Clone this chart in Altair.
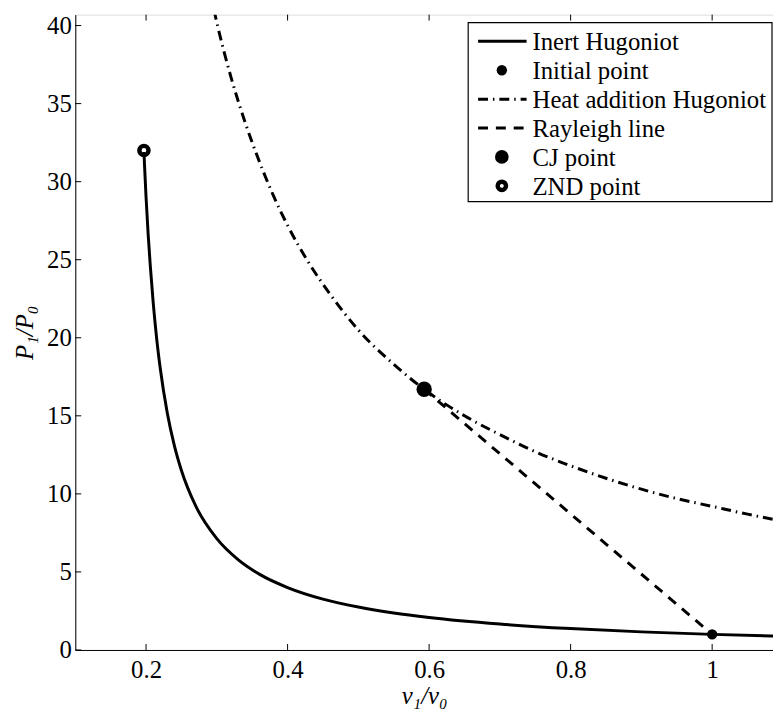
import altair as alt
import pandas as pd

# ---- data ----
inert_v = [0.197, 0.198, 0.200, 0.203, 0.206, 0.210, 0.215, 0.220, 0.230, 0.240, 0.250,
           0.270, 0.300, 0.330, 0.360, 0.400, 0.450, 0.500, 0.550, 0.600, 0.700, 0.800,
           0.900, 1.000, 1.100]
inert_P = [31.9, 30.9, 29.0, 26.6, 24.6, 22.3, 19.95, 18.06, 15.18, 13.09, 11.5,
           9.24, 7.13, 5.79, 4.86, 4.0, 3.26, 2.75, 2.37, 2.08, 1.66, 1.37,
           1.16, 1.0, 0.88]

heat_v = [0.296, 0.300, 0.320, 0.340, 0.360, 0.380, 0.400, 0.430, 0.460, 0.500, 0.550,
          0.593, 0.650, 0.700, 0.750, 0.800, 0.850, 0.900, 0.950, 1.000, 1.050, 1.100]
heat_P = [41.0, 40.2, 36.7, 33.8, 31.3, 29.1, 27.2, 24.8, 22.8, 20.5, 18.3,
          16.7, 15.0, 13.8, 12.7, 11.8, 11.0, 10.3, 9.7, 9.2, 8.7, 8.25]

rayleigh_v = [0.593, 1.0]
rayleigh_P = [16.7, 1.0]

initial_v, initial_P = [1.0], [1.0]
cj_v, cj_P = [0.593], [16.7]
znd_v, znd_P = [0.197], [32.0]

x_ticks = [0.2, 0.4, 0.6, 0.8, 1.0]
y_ticks = [0, 5, 10, 15, 20, 25, 30, 35, 40]

legend_labels = ["Inert Hugoniot", "Initial point", "Heat addition Hugoniot",
                 "Rayleigh line", "CJ point", "ZND point"]

# ---- layout / style ----
W, H = 705, 642
FONT = "Liberation Serif"
FS = 25
xs = alt.Scale(domain=[0.1, 1.086], nice=False, zero=False)
ys = alt.Scale(domain=[0, 40.7], nice=False, zero=False)

xaxis = alt.Axis(values=x_ticks, format="~g", ticks=False, grid=False,
                 title="v₁/v₀", titleFontStyle="italic", titleFont=FONT,
                 titleFontSize=FS, titleFontWeight="normal", titleColor="black",
                 titlePadding=1, labelFont=FONT, labelFontSize=FS, labelColor="black",
                 labelPadding=8, domainColor="black", labelFlush=False)
yaxis = alt.Axis(values=y_ticks, ticks=False, grid=False,
                 title="P₁/P₀", titleFontStyle="italic", titleFont=FONT,
                 titleFontSize=FS, titleFontWeight="normal", titleColor="black",
                 titlePadding=9, labelFont=FONT, labelFontSize=FS, labelColor="black",
                 labelPadding=4, domainColor="black", labelFlush=False)

X = alt.X("v:Q", scale=xs, axis=xaxis)
Y = alt.Y("P:Q", scale=ys, axis=yaxis)

df_inert = pd.DataFrame({"v": inert_v, "P": inert_P})
df_heat = pd.DataFrame({"v": heat_v, "P": heat_P})
df_ray = pd.DataFrame({"v": rayleigh_v, "P": rayleigh_P})
df_init = pd.DataFrame({"v": initial_v, "P": initial_P})
df_cj = pd.DataFrame({"v": cj_v, "P": cj_P})
df_znd = pd.DataFrame({"v": znd_v, "P": znd_P})

HEAT_DASH = [10, 5, 1.5, 5]
RAY_DASH = [10, 8]

layers = []
layers.append(alt.Chart(df_inert).mark_line(color="black", strokeWidth=3, clip=True,
                                             interpolate="monotone").encode(x=X, y=Y))
layers.append(alt.Chart(df_heat).mark_line(color="black", strokeWidth=3, clip=True,
                                            interpolate="monotone",
                                            strokeDash=HEAT_DASH).encode(x=X, y=Y))
layers.append(alt.Chart(df_ray).mark_line(color="black", strokeWidth=3, clip=True,
                                           strokeDash=RAY_DASH).encode(x=X, y=Y))
layers.append(alt.Chart(df_init).mark_point(shape="circle", filled=True, color="black",
                                             size=110, opacity=1).encode(x=X, y=Y))
layers.append(alt.Chart(df_cj).mark_point(shape="circle", filled=True, color="black",
                                           size=240, opacity=1).encode(x=X, y=Y))
layers.append(alt.Chart(df_znd).mark_point(shape="circle", filled=False, color="black",
                                            size=85, strokeWidth=4.5, opacity=1).encode(x=X, y=Y))

# inward ticks (bottom / top / left)
df_xt = pd.DataFrame({"v": x_ticks})
df_yt = pd.DataFrame({"P": y_ticks})
layers.append(alt.Chart(df_xt).mark_rule(color="black", strokeWidth=1).encode(
    x=X, y=alt.value(H), y2=alt.value(H - 6)))
layers.append(alt.Chart(df_xt).mark_rule(color="black", strokeWidth=1).encode(
    x=X, y=alt.value(0), y2=alt.value(6)))
layers.append(alt.Chart(df_yt).mark_rule(color="black", strokeWidth=1).encode(
    y=Y, x=alt.value(0), x2=alt.value(6)))

# ---- manual legend ----
LX0, LX1, LY0, LY1 = 397, 704, 8, 189
layers.append(alt.Chart(pd.DataFrame({"a": [0]})).mark_rect(
    fill="white", stroke="black", strokeWidth=1.2).encode(
    x=alt.value(LX0), x2=alt.value(LX1), y=alt.value(LY0), y2=alt.value(LY1)))

row_y = [27 + i * 29.2 for i in range(len(legend_labels))]
sym_x0, sym_x1, sym_c, txt_x = 407, 456, 431, 462
one = pd.DataFrame({"a": [0]})

layers.append(alt.Chart(one).mark_rule(color="black", strokeWidth=3).encode(
    x=alt.value(sym_x0), x2=alt.value(sym_x1), y=alt.value(row_y[0])))
layers.append(alt.Chart(one).mark_rule(color="black", strokeWidth=3, strokeDash=HEAT_DASH).encode(
    x=alt.value(sym_x0), x2=alt.value(sym_x1), y=alt.value(row_y[2])))
layers.append(alt.Chart(one).mark_rule(color="black", strokeWidth=3, strokeDash=RAY_DASH).encode(
    x=alt.value(sym_x0), x2=alt.value(sym_x1), y=alt.value(row_y[3])))
layers.append(alt.Chart(one).mark_point(shape="circle", filled=True, color="black", size=110,
                                        opacity=1).encode(x=alt.value(sym_c), y=alt.value(row_y[1])))
layers.append(alt.Chart(one).mark_point(shape="circle", filled=True, color="black", size=190,
                                        opacity=1).encode(x=alt.value(sym_c), y=alt.value(row_y[4])))
layers.append(alt.Chart(one).mark_point(shape="circle", filled=False, color="black", size=70,
                                        strokeWidth=4.5, opacity=1).encode(
    x=alt.value(sym_c), y=alt.value(row_y[5])))
for lbl, yy in zip(legend_labels, row_y):
    layers.append(alt.Chart(pd.DataFrame({"label": [lbl]})).mark_text(
        align="left", baseline="middle", font=FONT, fontSize=FS, color="black").encode(
        x=alt.value(txt_x), y=alt.value(yy + 1), text="label:N"))

chart = alt.layer(*layers).properties(
    width=W, height=H,
    autosize=alt.AutoSizeParams(type="none"),
    padding={"left": 68, "top": 3, "right": 0, "bottom": 62},
).configure_view(stroke="black", strokeWidth=1.2).configure(background="white")

chart.save("out.html", embed_options={"renderer": "svg", "actions": False})
